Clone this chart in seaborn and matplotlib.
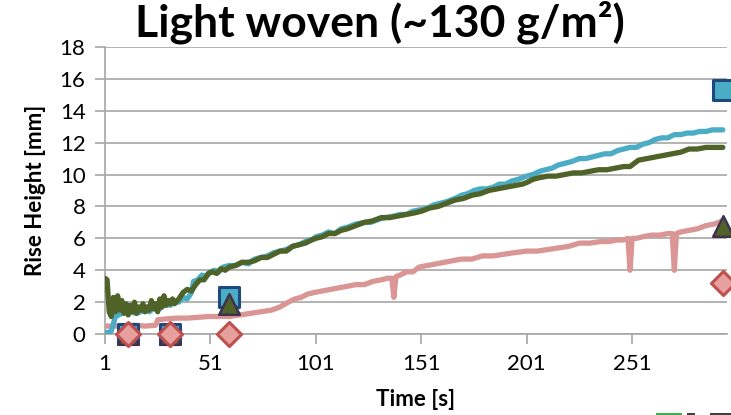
import numpy as np
import pandas as pd
import matplotlib
matplotlib.use("Agg")
import matplotlib.pyplot as plt
from matplotlib.patches import Rectangle
import seaborn as sns

# Continuous rise-height traces (time in s, height in mm)
t_blue = [1, 3, 4, 6, 9, 12, 16, 20, 22, 24, 26, 28, 30, 32, 34, 36, 38, 40, 42, 43,
          45, 47, 49, 51, 53, 55, 57, 60, 63, 66, 69, 72, 75, 78, 81, 84, 87, 90, 93,
          96, 99, 101, 104, 107, 110, 113, 116, 120, 124, 127, 131, 134, 138, 141,
          144, 147, 151, 154, 157, 160, 163, 167, 170, 173, 176, 179, 182, 185, 188,
          191, 194, 197, 201, 204, 207, 210, 213, 216, 219, 222, 226, 229, 232, 235,
          238, 241, 244, 247, 250, 253, 256, 259, 262, 265, 268, 271, 274, 277, 280,
          283, 286, 289, 292, 294]
h_blue = [0.1, 0.1, 0.2, 1.1, 1.3, 1.4, 1.3, 1.5, 1.4, 1.6, 1.5, 1.7, 1.9, 1.8, 2.1,
          2.0, 2.3, 2.2, 2.6, 3.3, 3.4, 3.7, 3.6, 3.9, 4.0, 3.9, 4.2, 4.3, 4.3, 4.5,
          4.4, 4.7, 4.8, 4.9, 5.1, 5.2, 5.3, 5.5, 5.6, 5.8, 5.9, 6.1, 6.2, 6.4, 6.3,
          6.6, 6.7, 6.9, 7.0, 7.0, 7.2, 7.3, 7.4, 7.5, 7.5, 7.7, 7.8, 7.9, 8.1, 8.2,
          8.3, 8.5, 8.7, 8.8, 9.0, 9.1, 9.1, 9.2, 9.4, 9.4, 9.6, 9.7, 9.9, 10.0, 10.2,
          10.3, 10.4, 10.6, 10.7, 10.8, 11.0, 11.0, 11.1, 11.2, 11.3, 11.3, 11.5,
          11.6, 11.7, 11.7, 11.9, 12.0, 12.2, 12.3, 12.3, 12.5, 12.5, 12.6, 12.6,
          12.7, 12.7, 12.8, 12.8, 12.8]

t_green = [1, 2, 3, 4, 5, 6, 7, 8, 9, 10, 11, 12, 13, 14, 15, 16, 17, 18, 19, 20, 21,
           22, 23, 24, 25, 26, 27, 28, 29, 30, 31, 32, 33, 34, 36, 38, 40, 42, 44,
           46, 48, 50, 52, 54, 56, 58, 60, 63, 66, 69, 72, 75, 78, 81, 84, 87, 90,
           93, 96, 99, 101, 104, 107, 110, 113, 116, 120, 124, 128, 132, 136, 140,
           144, 148, 151, 155, 159, 163, 167, 171, 175, 179, 183, 187, 191, 195,
           199, 201, 204, 207, 211, 215, 219, 223, 227, 231, 235, 239, 243, 247,
           250, 252, 254, 258, 262, 266, 270, 274, 278, 282, 286, 290, 294]
h_green = [3.5, 3.4, 1.4, 1.1, 2.3, 1.4, 2.4, 1.5, 2.1, 1.3, 1.9, 1.2, 1.8, 1.4, 2.0,
           1.3, 1.7, 1.5, 1.9, 1.4, 1.7, 1.5, 2.1, 1.6, 1.9, 1.4, 2.2, 1.7, 2.4, 1.8,
           2.1, 1.9, 2.2, 1.9, 2.2, 2.6, 2.8, 2.7, 3.1, 3.4, 3.4, 3.8, 3.9, 3.8, 4.1,
           4.0, 4.2, 4.3, 4.5, 4.5, 4.6, 4.8, 4.8, 5.0, 5.2, 5.2, 5.5, 5.6, 5.7, 5.9,
           6.0, 6.1, 6.3, 6.3, 6.5, 6.6, 6.8, 7.0, 7.1, 7.3, 7.3, 7.4, 7.5, 7.6, 7.7,
           7.9, 8.0, 8.2, 8.4, 8.5, 8.7, 8.8, 9.0, 9.1, 9.2, 9.3, 9.4, 9.5, 9.7, 9.8,
           9.9, 9.9, 10.0, 10.1, 10.1, 10.2, 10.3, 10.3, 10.4, 10.5, 10.5, 10.7,
           10.9, 11.0, 11.1, 11.2, 11.3, 11.4, 11.6, 11.6, 11.7, 11.7, 11.7]

t_pink = [1, 8, 15, 20, 25, 26, 30, 35, 40, 45, 50, 55, 60, 65, 70, 75, 80, 84, 88,
          91, 94, 97, 100, 104, 108, 112, 116, 120, 124, 128, 132, 135, 137, 138,
          139, 141, 144, 147, 150, 154, 158, 162, 166, 170, 175, 180, 185, 190, 195,
          201, 206, 211, 216, 221, 226, 231, 236, 240, 244, 247, 249, 250, 251, 253,
          256, 260, 264, 268, 270, 271, 272, 274, 278, 282, 286, 290, 294]
h_pink = [0.5, 0.5, 0.55, 0.5, 0.55, 0.9, 0.95, 1.0, 1.0, 1.05, 1.1, 1.1, 1.1, 1.2,
          1.3, 1.4, 1.5, 1.7, 2.0, 2.2, 2.3, 2.5, 2.6, 2.7, 2.8, 2.9, 3.0, 3.1, 3.1,
          3.3, 3.4, 3.5, 3.5, 2.3, 3.6, 3.7, 3.9, 3.9, 4.2, 4.3, 4.4, 4.5, 4.6, 4.7,
          4.7, 4.9, 4.9, 5.0, 5.1, 5.2, 5.2, 5.3, 5.4, 5.5, 5.7, 5.7, 5.8, 5.8, 5.9,
          5.9, 6.0, 4.0, 6.0, 6.0, 6.1, 6.2, 6.2, 6.3, 6.3, 4.0, 6.3, 6.4, 6.5, 6.6,
          6.8, 6.9, 7.1]

# Discrete measurements (time in s, height in mm)
t_points = [12, 32, 60, 294]
sq_vals = [0.0, 0.0, 2.3, 15.3]
tri_vals = [0.0, 0.0, 1.9, 6.8]
dia_vals = [0.0, 0.0, 0.0, 3.2]

x_ticks = [1, 51, 101, 151, 201, 251]
y_ticks = list(range(0, 20, 2))

c_blue = "#4bacc6"
c_green = "#4f6228"
c_pink = "#d99694"

sns.set_theme(style="white")
plt.rcParams["font.family"] = ["Lato", "DejaVu Sans"]
plt.rcParams["text.color"] = "black"
plt.rcParams["axes.labelcolor"] = "black"

fig = plt.figure(figsize=(7.31, 4.15), dpi=100)
ax = fig.add_axes([0.1436, 0.195, 0.851, 0.692])

lines = pd.concat([
    pd.DataFrame({"t": t_pink, "h": h_pink, "s": "pink"}),
    pd.DataFrame({"t": t_blue, "h": h_blue, "s": "blue"}),
    pd.DataFrame({"t": t_green, "h": h_green, "s": "green"}),
])
sns.lineplot(data=lines, x="t", y="h", hue="s", sort=False, estimator=None,
             palette={"pink": c_pink, "blue": c_blue, "green": c_green},
             linewidth=3.8, legend=False, ax=ax, zorder=3)

sns.scatterplot(x=t_points, y=sq_vals, marker="s", s=200, color=c_blue,
                edgecolor="#1f497d", linewidth=2.2, ax=ax, zorder=5, clip_on=False)
sns.scatterplot(x=t_points, y=tri_vals, marker="^", s=220, color=c_green,
                edgecolor="#3f3151", linewidth=1.8, ax=ax, zorder=6, clip_on=False)
sns.scatterplot(x=t_points, y=dia_vals, marker="D", s=150, color="#e6a09e",
                edgecolor="#c0504d", linewidth=2.2, ax=ax, zorder=7, clip_on=False)

ax.set_xlim(1, 296)
ax.set_ylim(0, 18)
ax.set_xticks(x_ticks)
ax.set_yticks(y_ticks)
ax.yaxis.grid(True, color="#a6a6a6", linewidth=1.2)
ax.xaxis.grid(False)
for side in ["top", "right"]:
    ax.spines[side].set_visible(False)
for side in ["left", "bottom"]:
    ax.spines[side].set_color("#a6a6a6")
    ax.spines[side].set_linewidth(1.2)
ax.tick_params(axis="both", which="major", direction="out", length=7, width=1.2,
               color="#a6a6a6", labelsize=16, labelcolor="black", pad=7,
               left=True, bottom=True)

ax.set_xlabel("Time [s]", fontsize=16, fontweight="bold", labelpad=11)
ax.set_ylabel("Rise Height [mm]", fontsize=16, fontweight="bold", labelpad=10)
fig.text(0.52, 1 - 37 / 415, "Light woven (~130 g/m²)", fontsize=32,
         fontweight="bold", ha="center", va="baseline")

# clipped legend swatches at the lower right edge
fig.add_artist(Rectangle((656 / 731, 0), 26 / 731, 2.5 / 415, transform=fig.transFigure,
                         facecolor="#3cb04a", edgecolor="none"))
fig.add_artist(Rectangle((687 / 731, 0), 8 / 731, 2.5 / 415, transform=fig.transFigure,
                         facecolor="#404040", edgecolor="none"))
fig.add_artist(Rectangle((710 / 731, 0), 21 / 731, 2.5 / 415, transform=fig.transFigure,
                         facecolor="#404040", edgecolor="none"))

fig.savefig("out.png", dpi=100)
